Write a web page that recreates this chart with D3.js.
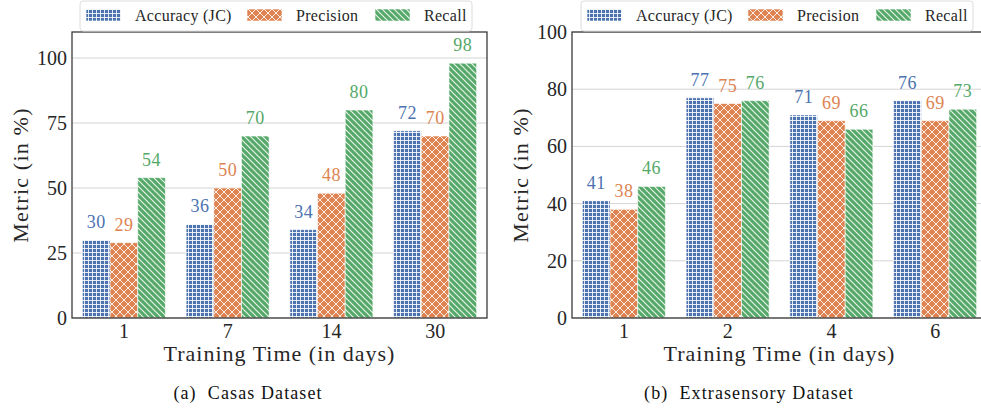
<!DOCTYPE html>
<html>
<head>
<meta charset="utf-8">
<script src="https://cdn.jsdelivr.net/npm/d3@7/dist/d3.min.js"></script>
<style>
  body { margin: 0; background: #fff; }
  svg { display: block; font-family: "Liberation Serif", "DejaVu Serif", serif; }
</style>
</head>
<body>
<svg id="chart" width="981" height="411"></svg>
<script>
// series names and colours
const series_names = ["Accuracy (JC)", "Precision", "Recall"];
const series_colors = ["#4c72b0", "#dd8452", "#55a868"];
const series_hatch = ["grid", "cross", "diag"];

// (a) Casas
const casas_days = ["1", "7", "14", "30"];
const casas_acc = [30, 36, 34, 72];
const casas_prec = [29, 50, 48, 70];
const casas_rec = [54, 70, 80, 98];
const casas_ticks = [0, 25, 50, 75, 100];

// (b) Extrasensory
const extra_days = ["1", "2", "4", "6"];
const extra_acc = [41, 77, 71, 76];
const extra_prec = [38, 75, 69, 69];
const extra_rec = [46, 76, 66, 73];
const extra_ticks = [0, 20, 40, 60, 80, 100];

const svg = d3.select("#chart");
const defs = svg.append("defs");

// hatch patterns: coloured background with white lines
function addPattern(id, color, size, path, sw) {
	const p = defs.append("pattern")
		.attr("id", id)
		.attr("patternUnits", "userSpaceOnUse")
		.attr("width", size)
		.attr("height", size);
	p.append("rect")
		.attr("width", size)
		.attr("height", size)
		.attr("fill", color);
	p.append("path")
		.attr("d", path)
		.attr("stroke", "#fff")
		.attr("stroke-opacity", 0.85)
		.attr("stroke-width", sw)
		.attr("fill", "none");
}
addPattern("grid", series_colors[0], 4, "M0,0.5H4M0.5,0V4", 1);
addPattern("cross", series_colors[1], 8, "M0,0L8,8M8,0L0,8", 1);
addPattern("diag", series_colors[2], 6, "M0,0L6,6M-1,5L1,7M5,-1L7,1", 1.2);

function drawChart(cfg) {
	const g = svg.append("g");
	const x0 = cfg.left, x1 = cfg.left + 415;
	const y0 = 32, y1 = 318;

	const x = d3.scaleBand()
		.domain(cfg.days)
		.range([x0, x1])
		.paddingInner(0.2)
		.paddingOuter(0.1);
	const xs = d3.scaleBand()
		.domain(d3.range(3))
		.range([0, x.bandwidth()]);
	const y = d3.scaleLinear()
		.domain([0, cfg.ymax])
		.range([y1, y0]);

	// grid
	g.append("g")
		.selectAll("line")
		.data(cfg.ticks)
		.enter()
		.append("line")
		.attr("x1", x0)
		.attr("x2", x1)
		.attr("y1", d => y(d))
		.attr("y2", d => y(d))
		.attr("stroke", "#d4d4d4")
		.attr("stroke-width", 1);

	// bars
	const values = [cfg.acc, cfg.prec, cfg.rec];
	const rows = [];
	cfg.days.forEach((day, i) => {
		values.forEach((vals, s) => rows.push({day: day, s: s, v: vals[i]}));
	});

	g.append("g")
		.selectAll("rect")
		.data(rows)
		.enter()
		.append("rect")
		.attr("x", d => x(d.day) + xs(d.s))
		.attr("y", d => y(d.v))
		.attr("width", xs.bandwidth())
		.attr("height", d => y1 - y(d.v))
		.attr("fill", d => "url(#" + series_hatch[d.s] + ")")
		.attr("stroke", "#fff")
		.attr("stroke-opacity", 0.6)
		.attr("stroke-width", 1);

	g.append("g")
		.selectAll("text")
		.data(rows)
		.enter()
		.append("text")
		.attr("x", d => x(d.day) + xs(d.s) + xs.bandwidth() / 2)
		.attr("y", d => y(d.v) - 12)
		.attr("text-anchor", "middle")
		.attr("font-size", 18)
		.attr("letter-spacing", 0.5)
		.attr("fill", d => series_colors[d.s])
		.text(d => d.v);

	// frame
	g.append("rect")
		.attr("x", x0)
		.attr("y", y0)
		.attr("width", x1 - x0)
		.attr("height", y1 - y0)
		.attr("fill", "none")
		.attr("stroke", "#333")
		.attr("stroke-width", 1.25);

	// axes
	const yAxis = g.append("g")
		.attr("transform", "translate(" + x0 + ",0)")
		.call(d3.axisLeft(y).tickValues(cfg.ticks).tickSize(0).tickPadding(5));
	const xAxis = g.append("g")
		.attr("transform", "translate(0," + y1 + ")")
		.call(d3.axisBottom(x).tickSize(0).tickPadding(6));
	[xAxis, yAxis].forEach(a => {
		a.select(".domain").remove();
		a.selectAll("text")
			.attr("font-family", "Liberation Serif, serif")
			.attr("font-size", 20)
			.attr("fill", "#262626");
	});

	g.append("text")
		.attr("x", (x0 + x1) / 2)
		.attr("y", 361)
		.attr("text-anchor", "middle")
		.attr("font-size", 22)
		.attr("letter-spacing", 1)
		.attr("fill", "#262626")
		.text("Training Time (in days)");

	g.append("text")
		.attr("transform", "translate(" + (cfg.left - 44) + "," + (y0 + y1) / 2 + ") rotate(-90)")
		.attr("text-anchor", "middle")
		.attr("font-size", 22)
		.attr("letter-spacing", 1.2)
		.attr("fill", "#262626")
		.text("Metric (in %)");

	g.append("text")
		.attr("x", cfg.capX)
		.attr("y", 399)
		.attr("text-anchor", "middle")
		.attr("font-size", 18)
		.attr("letter-spacing", 1.1)
		.attr("fill", "#111")
		.attr("xml:space", "preserve")
		.text(cfg.caption);

	// legend
	const lg = g.append("g").attr("transform", "translate(" + cfg.legX + ",1)");
	lg.append("rect")
		.attr("width", 392)
		.attr("height", 30)
		.attr("rx", 3)
		.attr("fill", "#fff")
		.attr("stroke", "#dcdcdc");
	const offs = [0, 161, 289];
	series_names.forEach((name, s) => {
		lg.append("rect")
			.attr("x", 6 + offs[s])
			.attr("y", 8)
			.attr("width", 35)
			.attr("height", 12)
			.attr("fill", "url(#" + series_hatch[s] + ")")
			.attr("stroke", "#fff")
			.attr("stroke-opacity", 0.6);
		lg.append("text")
			.attr("x", 55 + offs[s])
			.attr("y", 20)
			.attr("font-size", 16)
			.attr("letter-spacing", 0.3)
			.attr("fill", "#262626")
			.text(name);
	});
}

drawChart({
	left: 72, days: casas_days, acc: casas_acc, prec: casas_prec, rec: casas_rec,
	ticks: casas_ticks, ymax: 110, caption: "(a)  Casas Dataset", capX: 248, legX: 80
});
drawChart({
	left: 572, days: extra_days, acc: extra_acc, prec: extra_prec, rec: extra_rec,
	ticks: extra_ticks, ymax: 100, caption: "(b)  Extrasensory Dataset", capX: 749, legX: 581
});
</script>
</body>
</html>
